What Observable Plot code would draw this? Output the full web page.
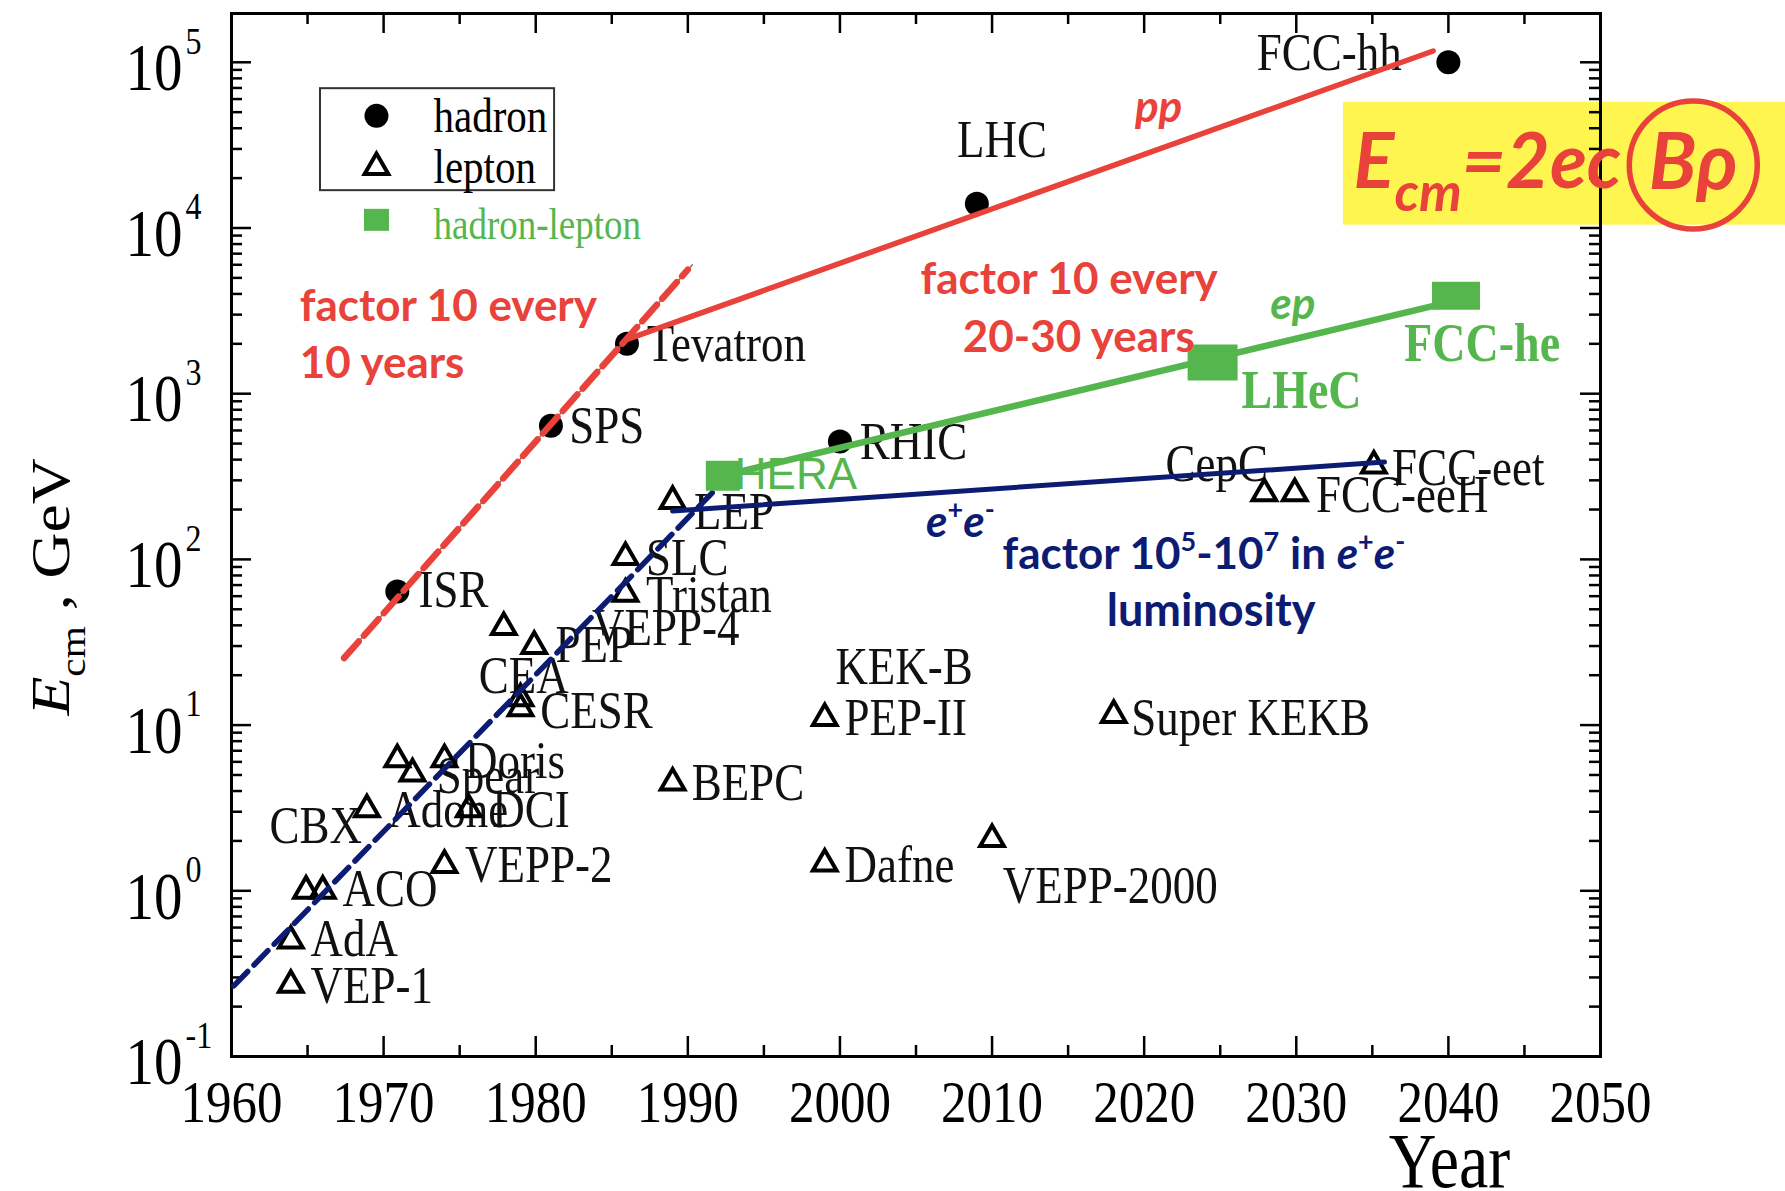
<!DOCTYPE html>
<html><head><meta charset="utf-8">
<script src="https://cdn.jsdelivr.net/npm/d3@7"></script>
<script src="https://cdn.jsdelivr.net/npm/@observablehq/plot@0.6"></script>
<style>
html,body{margin:0;padding:0;background:#fff;}
#chart{width:1785px;height:1191px;overflow:hidden;}
</style></head><body><div id="chart"></div>
<script>
// ---------- data ----------
const hadronNames  = ["ISR","SPS","Tevatron","RHIC","LHC","FCC-hh"];
const hadronYears  = [1970.9, 1981.0, 1986.0, 2000.0, 2009.0, 2040.0];
const hadronEnergy = [64, 640, 2000, 515, 14000, 100000];

const leptonYears  = [1963.9, 1963.9, 1964.9, 1966.0, 1968.9, 1970.9, 1971.9, 1974.0, 1975.6, 1974.0,
                      1977.9, 1979.9, 1979.0, 1979.0, 1985.9, 1985.9, 1989.0, 1989.0, 1999.0, 1999.0,
                      2010.0, 2018.0, 2027.9, 2029.9, 2035.1];
const leptonEnergy = [0.27, 0.5, 1.0, 1.0, 3.1, 6.2, 5.1, 6.2, 3.1, 1.43,
                      39, 30, 14.5, 12.6, 103, 62, 225, 4.5, 11, 1.46,
                      2.05, 11.5, 250, 250, 368];

const hlNames  = ["HERA","LHeC","FCC-he"];
const hlYears  = [1992.3, 2024.5, 2040.5];
const hlEnergy = [320, 1540, 3900];

// trend lines (end points)
const ppLineYears = [1986.1, 2039.0],  ppLineEnergy = [2140, 117000];
const epLineYears = [1992.3, 2039.3],  epLineEnergy = [320, 3440];
const eeLineYears = [1989.0, 2035.8],  eeLineEnergy = [196, 387];
const hadFitYears = [1967.4, 1990.0],  hadFitEnergy = [25.4, 5600];
const lepFitYears = [1960.15, 1992.4], lepFitEnergy = [0.267, 300];

// accelerator labels (start of text)
const labelText   = ["FCC-hh","LHC","Tevatron","SPS","RHIC","ISR","LEP","SLC","Tristan","VEPP-4","PEP","CEA","CESR",
                     "Doris","Spear","Adone","DCI","CBX","VEPP-2","ACO","AdA","VEP-1","BEPC","KEK-B","PEP-II","Dafne",
                     "VEPP-2000","Super KEKB","CepC","FCC-eet","FCC-eeH"];
const labelYear   = [2027.4,2007.7,1987.3,1982.2,2001.3,1972.3,1990.4,1987.25,1987.25,1983.7,1981.3,1976.25,1980.3,
                     1975.35,1973.5,1970.3,1977.15,1962.5,1975.35,1967.3,1965.2,1965.2,1990.25,1999.7,2000.3,2000.3,
                     2010.7,2019.15,2021.4,2036.3,2031.3];
const labelEnergy = [113500,34100,2000,640,514,65,193,102,61,38.4,30.3,19.8,12.1,
                     6.12,4.91,3.06,3.06,2.48,1.43,1.02,0.51,0.267,4.46,22.4,11.0,1.43,
                     1.07,11.0,375,357,244];

const greenLabelText   = ["LHeC","FCC-he"];
const greenLabelYear   = [2026.4, 2037.1];
const greenLabelEnergy = [1050, 2004];

// axis ticks
const xMajorTicks = [1960,1970,1980,1990,2000,2010,2020,2030,2040,2050];
const xMinorTicks = [1965,1975,1985,1995,2005,2015,2025,2035,2045];
const yTickValues = [0.1,1,10,100,1000,10000,100000];
const yTickExponents = ["-1","0","1","2","3","4","5"];
const yMinorMultipliers = [2,3,4,5,6,7,8,9];

// ---------- tables ----------
const hadrons = hadronNames.map((n,i)=>({name:n, year:hadronYears[i], E:hadronEnergy[i]}));
const leptons = leptonYears.map((y,i)=>({year:y, E:leptonEnergy[i]}));
const hl = hlNames.map((n,i)=>({name:n, year:hlYears[i], E:hlEnergy[i]}));
const mk = (ys,es)=>ys.map((y,i)=>({year:y, E:es[i]}));
const labels = labelText.map((t,i)=>({t, year:labelYear[i], E:labelEnergy[i]}));
const greenLabels = greenLabelText.map((t,i)=>({t, year:greenLabelYear[i], E:greenLabelEnergy[i]}));
const yTicks = yTickValues.map((v,i)=>({v, e:yTickExponents[i]}));
const yMinor = yTickValues.slice(0,-1).flatMap(d=>yMinorMultipliers.map(m=>d*m));

const RED="#e8423a", GREEN="#55b64e", NAVY="#0c1c72", SERIF="'Liberation Serif','Times New Roman',serif", SANS="Lato,'Open Sans',sans-serif";
const frameH = 1191-13-135, frameW = 1785-231-185;
const rectSym = (w,h)=>({draw(ctx){ctx.rect(-w/2,-h/2,w,h);}});

const svg = Plot.plot({
  width:1785, height:1191,
  marginLeft:231, marginRight:185, marginTop:13, marginBottom:135,
  style:{background:"white", fontFamily:SERIF, overflow:"visible"},
  x:{domain:[1960,2050], axis:null},
  y:{type:"log", domain:[0.1,1.97e5], axis:null},
  marks:[
    // yellow formula box (behind everything)
    Plot.rect([{x1:2033.1,x2:2062.3,y1:10400,y2:57400}], {x1:"x1",x2:"x2",y1:"y1",y2:"y2", fill:"#fff550"}),
    // ticks
    Plot.ruleX(xMajorTicks, {x:d=>d, insetTop:frameH-20, stroke:"black", strokeWidth:2.5}),
    Plot.ruleX(xMinorTicks, {x:d=>d, insetTop:frameH-11, stroke:"black", strokeWidth:2.5}),
    Plot.ruleX(xMajorTicks, {x:d=>d, insetBottom:frameH-20, stroke:"black", strokeWidth:2.5}),
    Plot.ruleX(xMinorTicks, {x:d=>d, insetBottom:frameH-11, stroke:"black", strokeWidth:2.5}),
    Plot.ruleY(yTickValues, {y:d=>d, insetRight:frameW-20, stroke:"black", strokeWidth:2.5}),
    Plot.ruleY(yMinor, {y:d=>d, insetRight:frameW-11, stroke:"black", strokeWidth:2.5}),
    Plot.ruleY(yTickValues, {y:d=>d, insetLeft:frameW-20, stroke:"black", strokeWidth:2.5}),
    Plot.ruleY(yMinor, {y:d=>d, insetLeft:frameW-11, stroke:"black", strokeWidth:2.5}),
    Plot.frame({stroke:"black", strokeWidth:3}),
    // tick labels
    Plot.text(xMajorTicks, {x:d=>d, frameAnchor:"bottom", dy:46, text:d=>String(d), fontSize:51, fontFamily:SERIF, lineAnchor:"middle", fill:"black"}),
    Plot.text(yTicks, {y:"v", frameAnchor:"left", dx:-49, dy:6, text:()=>"10", textAnchor:"end", lineAnchor:"middle", fontSize:57, fontFamily:SERIF, fill:"black"}),
    Plot.text(yTicks, {y:"v", frameAnchor:"left", dx:-46, dy:-21, text:"e", textAnchor:"start", lineAnchor:"middle", fontSize:32, fontFamily:SERIF, fill:"black"}),
    Plot.text(["Year"], {frameAnchor:"bottom-right", dx:-151, dy:105, textAnchor:"middle", lineAnchor:"middle", fontSize:66, fontFamily:SERIF, fill:"black"}),
    Plot.text(["§ylabel"], {frameAnchor:"left", dx:-180, dy:52, rotate:-90, textAnchor:"middle", lineAnchor:"middle", fontSize:54, fontFamily:SERIF, fill:"black"}),
    // legend
    Plot.rect([{x1:1965.85,x2:1981.24,y1:16800,y2:69300}], {x1:"x1",x2:"x2",y1:"y1",y2:"y2", fill:"white", stroke:"#333", strokeWidth:2}),
    Plot.dot([{year:1969.53,E:47500}], {x:"year", y:"E", r:12, fill:"black"}),
    Plot.dot([{year:1969.53,E:23300}], {x:"year", y:"E", r:8.8, symbol:"triangle", stroke:"black", strokeWidth:4, fill:"white"}),
    Plot.dot([{year:1969.53,E:11200}], {x:"year", y:"E", symbol:rectSym(25,22), fill:GREEN}),
    Plot.text([{t:"hadron",year:1973.28,E:47500},{t:"lepton",year:1973.28,E:23300}], {x:"year", y:"E", text:"t", textAnchor:"start", lineAnchor:"middle", fontSize:41, fontFamily:SERIF, fill:"black"}),
    Plot.text([{t:"hadron-lepton",year:1973.28,E:10450}], {x:"year", y:"E", text:"t", textAnchor:"start", lineAnchor:"middle", fontSize:37, fontFamily:SERIF, fill:GREEN}),
    // accelerator labels
    Plot.text(labels, {x:"year", y:"E", text:"t", textAnchor:"start", lineAnchor:"middle", fontSize:45, fontFamily:SERIF, fill:"#111"}),
    Plot.text(greenLabels, {x:"year", y:"E", text:"t", textAnchor:"start", lineAnchor:"middle", fontSize:46, fontWeight:"bold", fontFamily:SERIF, fill:GREEN}),
    Plot.text([{t:"HERA",year:1993.09,E:325}], {x:"year", y:"E", text:"t", textAnchor:"start", lineAnchor:"middle", fontSize:44, fontFamily:"'Liberation Sans',Arial,sans-serif", fill:GREEN}),
    // markers
    Plot.dot(hadrons, {x:"year", y:"E", r:12, fill:"black"}),
    Plot.dot(leptons, {x:"year", y:"E", r:8.8, symbol:"triangle", stroke:"black", strokeWidth:4, fill:"none"}),
    // trend lines
    Plot.line(mk(hadFitYears.map((y,i)=>i? y+0.3 : y), hadFitEnergy.map((e,i)=>i? e*1.07 : e)), {x:"year", y:"E", stroke:"#777", strokeWidth:1.5}),
    Plot.line(mk(hadFitYears, hadFitEnergy), {x:"year", y:"E", stroke:RED, strokeWidth:6.5, strokeDasharray:"22,8"}),
    Plot.line(mk(lepFitYears, lepFitEnergy), {x:"year", y:"E", stroke:NAVY, strokeWidth:5.5, strokeDasharray:"20,9"}),
    Plot.line(mk(ppLineYears, ppLineEnergy), {x:"year", y:"E", stroke:RED, strokeWidth:5.5}),
    Plot.line(mk(eeLineYears, eeLineEnergy), {x:"year", y:"E", stroke:NAVY, strokeWidth:5}),
    Plot.line(mk(epLineYears, epLineEnergy), {x:"year", y:"E", stroke:GREEN, strokeWidth:6.5}),
    // hadron-lepton squares
    Plot.dot(hl.slice(0,1), {x:"year", y:"E", symbol:rectSym(34,30), fill:GREEN}),
    Plot.dot(hl.slice(1,2), {x:"year", y:"E", symbol:rectSym(50,36), fill:GREEN}),
    Plot.dot(hl.slice(2,3), {x:"year", y:"E", symbol:rectSym(48,28), fill:GREEN}),
    // annotations
    Plot.text([{t:"factor 10 every",year:1964.49,E:3327},{t:"10 years",year:1964.49,E:1510},
               {t:"factor 10 every",year:2005.3,E:4864},{t:"20-30 years",year:2008.07,E:2173}],
      {x:"year", y:"E", text:"t", textAnchor:"start", lineAnchor:"middle", fontSize:44, fontWeight:"bold", fontFamily:SANS, fill:RED}),
    Plot.text([{t:"pp",year:2020.95,E:53100}], {x:"year", y:"E", text:"t", lineAnchor:"middle", fontSize:44, fontWeight:"bold", fontStyle:"italic", fontFamily:SANS, fill:RED}),
    Plot.text([{t:"ep",year:2029.78,E:3435}], {x:"year", y:"E", text:"t", lineAnchor:"middle", fontSize:44, fontWeight:"bold", fontStyle:"italic", fontFamily:SANS, fill:GREEN}),
    Plot.text([{t:"§ee",year:2007.92,E:167}], {x:"year", y:"E", text:"t", lineAnchor:"middle", fontSize:44, fontWeight:"bold", fontFamily:SANS, fill:NAVY}),
    Plot.text([{t:"§lumi",year:2010.69,E:107}], {x:"year", y:"E", text:"t", textAnchor:"start", lineAnchor:"middle", fontSize:44, fontWeight:"bold", fontFamily:SANS, fill:NAVY}),
    Plot.text([{t:"luminosity",year:2024.4,E:48.6}], {x:"year", y:"E", text:"t", lineAnchor:"middle", fontSize:45, fontWeight:"bold", fontFamily:SANS, fill:NAVY}),
    // formula
    Plot.text([{t:"§formula",year:2033.77,E:24300}], {x:"year", y:"E", text:"t", textAnchor:"start", lineAnchor:"middle", fontSize:76, fontWeight:"bold", fontStyle:"italic", fontFamily:SANS, fill:RED}),
    Plot.text([{t:"Bρ",year:2056.1,E:24300}], {x:"year", y:"E", text:"t", textAnchor:"middle", lineAnchor:"middle", fontSize:78, fontWeight:"bold", fontStyle:"italic", fontFamily:SANS, fill:RED}),
    Plot.dot([{year:2056.1,E:24000}], {x:"year", y:"E", r:64, stroke:RED, strokeWidth:5.5, fill:"none"})
  ]
});

// rich text (sub/superscripts)
const richParts = {
  "§ylabel": {base:54, parts:[{t:"E",italic:true},{t:"cm",sub:true,size:35},{t:" , GeV"}]},
  "§ee":     {base:44, parts:[{t:"e",italic:true},{t:"+",sup:true,size:27},{t:"e",italic:true},{t:"-",sup:true,size:27}]},
  "§lumi":   {base:44, parts:[{t:"factor 10"},{t:"5",sup:true,size:27},{t:"-10"},{t:"7",sup:true,size:27},{t:" in "},{t:"e",italic:true},{t:"+",sup:true,size:27},{t:"e",italic:true},{t:"-",sup:true,size:27}]},
  "§formula":{base:76, parts:[{t:"E"},{t:"cm",sub:true,size:54},{t:"=2ec"}]}
};
d3.select(svg).selectAll("text").each(function(){
  const spec = richParts[this.textContent];
  if (!spec) return;
  const el = this; el.textContent = "";
  let shift = 0;
  for (const p of spec.parts) {
    const ts = document.createElementNS("http://www.w3.org/2000/svg","tspan");
    ts.textContent = p.t;
    const target = p.sup ? -spec.base*0.4 : p.sub ? spec.base*0.3 : 0;
    const dy = target - shift; shift = target;
    if (dy) ts.setAttribute("dy", dy);
    if (p.size) ts.setAttribute("font-size", p.size);
    if (p.italic) ts.setAttribute("font-style","italic");
    el.appendChild(ts);
  }
});
document.getElementById("chart").appendChild(svg);

// the figure's serif lettering is drawn vertically stretched in the reference
svg.querySelectorAll("text").forEach(el=>{
  const fam = getComputedStyle(el).fontFamily || "";
  if (!/Serif/i.test(fam) || /Sans/i.test(fam)) return;
  const s = 1.18;
  const t = el.getAttribute("transform") || "";
  const b = el.getBBox();
  const cx = b.x + b.width/2, cy = b.y + b.height/2;
  const sc = /rotate/.test(t) ? `scale(${s},1)` : `scale(1,${s})`;
  el.setAttribute("transform", `${t} translate(${cx},${cy}) ${sc} translate(${-cx},${-cy})`);
});
</script></body></html>
